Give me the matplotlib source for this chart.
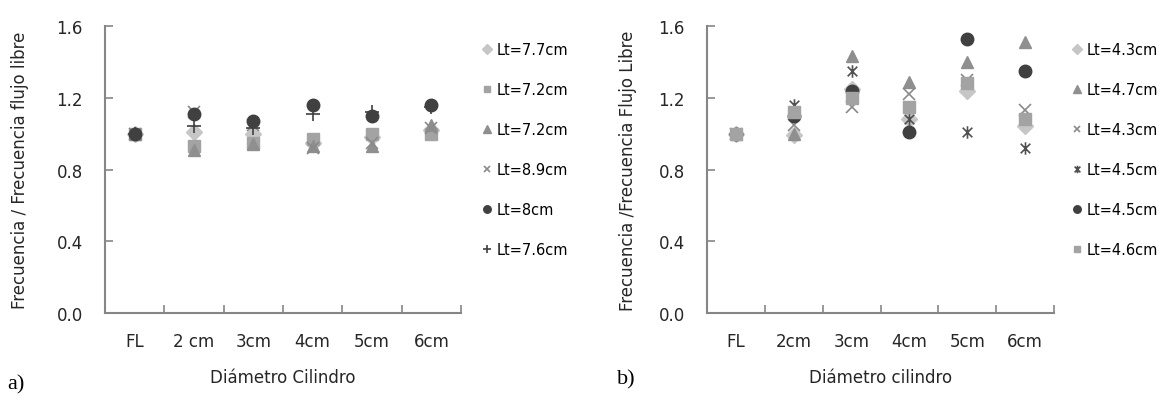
import numpy as np
import matplotlib
matplotlib.use("Agg")
import matplotlib.pyplot as plt
from matplotlib.path import Path

plt.rcParams['font.family'] = ['DejaVu Sans']

# panel a) data
cats_a = ['FL', '2 cm', '3cm', '4cm', '5cm', '6cm']
labels_a = ['Lt=7.7cm', 'Lt=7.2cm', 'Lt=7.2cm', 'Lt=8.9cm', 'Lt=8cm', 'Lt=7.6cm']
a_diamond = [1.0, 1.01, 1.0, 0.95, 0.98, 1.02]
a_square = [1.0, 0.93, 0.95, 0.97, 1.0, 1.0]
a_triangle = [1.0, 0.91, 0.94, 0.93, 0.93, 1.05]
a_cross = [1.0, 1.12, 1.05, 0.92, 0.95, 1.03]
a_circle = [1.0, 1.11, 1.07, 1.16, 1.10, 1.16]
a_plus = [1.0, 1.04, 1.03, 1.11, 1.12, 1.15]

# panel b) data
cats_b = ['FL', '2cm', '3cm', '4cm', '5cm', '6cm']
labels_b = ['Lt=4.3cm', 'Lt=4.7cm', 'Lt=4.3cm', 'Lt=4.5cm', 'Lt=4.5cm', 'Lt=4.6cm']
b_diamond = [1.0, 0.99, 1.25, 1.08, 1.24, 1.04]
b_triangle = [1.0, 1.00, 1.43, 1.29, 1.40, 1.51]
b_cross = [1.0, 1.05, 1.15, 1.22, 1.30, 1.13]
b_star = [1.0, 1.16, 1.35, 1.08, 1.01, 0.92]
b_circle = [1.0, 1.10, 1.24, 1.01, 1.53, 1.35]
b_square = [1.0, 1.12, 1.20, 1.15, 1.28, 1.08]

# excel style asterisk: x with a vertical bar
star = Path([(-1, -1), (1, 1), (-1, 1), (1, -1), (0, -1.3), (0, 1.3)],
            [Path.MOVETO, Path.LINETO, Path.MOVETO, Path.LINETO, Path.MOVETO, Path.LINETO])

sty = {
    'diamond': dict(marker='D', color='#c6c6c6', ms=8),
    'square': dict(marker='s', color='#a3a3a3', ms=8),
    'triangle': dict(marker='^', color='#8f8f8f', ms=9),
    'cross': dict(marker='x', color='#8a8a8a', ms=8, mew=1.2),
    'circle': dict(marker='o', color='#404040', ms=9),
    'plus': dict(marker='+', color='#404040', ms=10, mew=1.2),
    'star': dict(marker=star, color='#505050', ms=9, mew=1.2),
}

W, H = 1175, 402
fig = plt.figure(figsize=(W / 100, H / 100), dpi=100)
txt = '#262626'


def setup(ax, cats, xlabel, ylabel, ylab_x):
    ax.set_xlim(-0.5, len(cats) - 0.5)
    ax.set_ylim(0, 1.6)
    ax.set_yticks([0.0, 0.4, 0.8, 1.2, 1.6])
    ax.set_yticklabels(['0.0', '0.4', '0.8', '1.2', '1.6'])
    ax.set_xticks(range(len(cats)))
    ax.set_xticklabels(cats)
    ax.set_xticks(np.arange(0.5, len(cats), 1), minor=True)
    ax.tick_params(axis='x', which='major', length=0, pad=14, labelsize=12, labelcolor=txt)
    ax.tick_params(axis='x', which='minor', length=6, width=1.2, direction='in', color='#868686')
    ax.tick_params(axis='y', length=6, width=1.2, direction='in', color='#868686',
                   pad=16, labelsize=12, labelcolor=txt)
    for s in ['top', 'right']:
        ax.spines[s].set_visible(False)
    for s in ['left', 'bottom']:
        ax.spines[s].set_color('#868686')
        ax.spines[s].set_linewidth(1.5)
    ax.set_xlabel(xlabel, fontsize=12, color=txt, va='center')
    ax.set_ylabel(ylabel, fontsize=12, color=txt, va='center')
    ax.xaxis.set_label_coords(0.5, -0.223)
    ax.yaxis.set_label_coords(ylab_x, 0.5)


ax1 = fig.add_axes([105 / W, 88 / H, 356 / W, 287 / H])
x = np.arange(len(cats_a))
for vals, key, lab in zip([a_diamond, a_square, a_triangle, a_cross, a_circle, a_plus],
                          ['diamond', 'square', 'triangle', 'cross', 'circle', 'plus'], labels_a):
    ax1.plot(x, vals, linestyle='none', label=lab, mec=sty[key]['color'], **sty[key])
setup(ax1, cats_a, 'Diámetro Cilindro', 'Frecuencia / Frecuencia flujo libre', -0.239)
ax1.legend(loc='upper left', bbox_to_anchor=(481 / W, 1 - 43 / H), bbox_transform=fig.transFigure,
           frameon=False, fontsize=10.5, markerscale=0.6, handlelength=0.8, handletextpad=0.3,
           labelspacing=1.72, borderaxespad=0, borderpad=0)

ax2 = fig.add_axes([707 / W, 88 / H, 347 / W, 287 / H])
x = np.arange(len(cats_b))
for vals, key, lab in zip([b_diamond, b_triangle, b_cross, b_star, b_circle, b_square],
                          ['diamond', 'triangle', 'cross', 'star', 'circle', 'square'], labels_b):
    ax2.plot(x, vals, linestyle='none', label=lab, mec=sty[key]['color'], **sty[key])
setup(ax2, cats_b, 'Diámetro cilindro', 'Frecuencia /Frecuencia Flujo Libre', -0.228)
ax2.legend(loc='upper left', bbox_to_anchor=(1071 / W, 1 - 43 / H), bbox_transform=fig.transFigure,
           frameon=False, fontsize=10.5, markerscale=0.6, handlelength=0.8, handletextpad=0.3,
           labelspacing=1.72, borderaxespad=0, borderpad=0)

fig.text(7 / W, 1 - 385 / H, 'a)', family='Liberation Serif', fontsize=16, va='center')
fig.text(617 / W, 1 - 380 / H, 'b)', family='Liberation Serif', fontsize=16, va='center')

fig.savefig('out.png', dpi=100)
